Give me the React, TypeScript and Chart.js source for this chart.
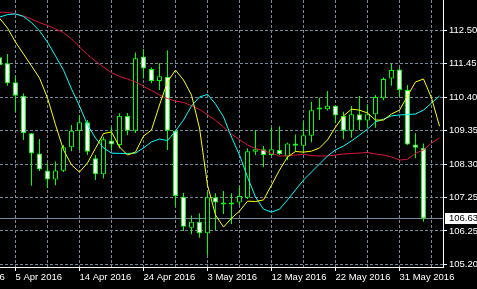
import React, { useEffect, useRef } from 'react';
import { Chart, registerables } from 'chart.js';

Chart.register(...registerables);

// Bar index of the first candle (bars are daily incl. Sunday bars)
const FIRST_BAR = -1;

const OPEN = [
  111.66, 111.47, 110.88, 110.46, 109.29, 108.66, 108.13, 107.85, 108.12, 108.85,
  109.37, 109.63, 108.51, 108.01, 109.06, 108.92, 109.83, 109.37, 111.68, 111.29,
  110.92, 111.05, 109.37, 107.31, 106.34, 106.53, 106.17, 107.29, 107.13, 107.13,
  107.13, 107.28, 108.71, 108.79, 108.61, 108.77, 108.56, 108.97, 108.90, 109.21,
  110.04, 110.04, 110.15, 109.83, 109.37, 109.88, 109.69, 109.88, 110.38, 111.00,
  111.28, 110.64, 108.94, 108.84,
];
const HIGH = [
  111.73, 111.76, 111.08, 110.53, 109.30, 109.11, 108.35, 108.41, 108.92, 109.55,
  109.86, 109.70, 108.61, 109.18, 109.49, 109.91, 109.92, 111.81, 111.92, 111.34,
  111.47, 111.88, 109.40, 107.43, 106.72, 106.79, 107.46, 107.42, 107.49, 107.42,
  107.62, 108.82, 109.39, 108.89, 109.47, 109.51, 108.99, 109.25, 109.67, 110.27,
  110.40, 110.61, 110.17, 109.96, 110.14, 110.45, 110.19, 110.48, 111.03, 111.45,
  111.34, 110.79, 109.29, 108.97,
];
const LOW = [
  111.35, 110.77, 109.96, 109.08, 107.65, 108.11, 107.57, 107.67, 108.08, 108.73,
  108.77, 108.61, 107.83, 107.88, 108.77, 108.82, 109.23, 109.30, 111.00, 110.85,
  110.64, 108.77, 107.00, 106.24, 106.14, 106.03, 105.49, 106.27, 106.77, 106.46,
  107.05, 107.24, 108.61, 108.23, 108.58, 108.61, 108.45, 108.71, 108.66, 109.01,
  109.70, 110.00, 109.60, 109.10, 109.15, 109.39, 109.46, 109.46, 110.32, 110.77,
  110.43, 108.92, 108.51, 106.53,
];
const CLOSE = [
  111.42, 110.85, 110.46, 109.29, 108.66, 108.16, 107.85, 108.13, 108.85, 109.37,
  109.63, 108.71, 108.01, 109.10, 108.94, 109.83, 109.37, 111.63, 111.31, 110.92,
  111.07, 109.37, 107.33, 106.37, 106.53, 106.17, 107.29, 107.13, 107.07, 107.07,
  107.33, 108.73, 108.79, 108.61, 108.79, 108.63, 108.97, 108.90, 109.23, 110.01,
  110.03, 110.15, 109.84, 109.37, 109.88, 109.69, 109.88, 110.42, 110.98, 111.26,
  110.64, 108.94, 108.84, 106.63,
];

// Moving averages (shifted forward, so they run two bars past the last candle)
const MA_YELLOW = [
  112.88, 112.57, 112.13, 111.76, 111.39, 111.01, 110.39, 109.55, 108.77, 108.30,
  108.08, 108.36, 108.82, 109.28, 109.33, 108.86, 108.61, 108.70, 109.20, 109.39,
  110.17, 110.89, 111.26, 110.95, 110.48, 109.45, 107.67, 106.74, 106.36, 106.64,
  106.86, 107.17, 107.16, 107.21, 107.67, 108.14, 108.55, 108.72, 108.70, 108.73,
  108.83, 109.08, 109.48, 109.83, 110.04, 110.01, 109.92, 109.70, 109.70, 109.89,
  110.01, 110.45, 110.89, 110.98, 110.39, 109.51,
];
const MA_CYAN = [
  112.91, 112.99, 113.01, 112.93, 112.74, 112.48, 112.13, 111.70, 111.26, 110.67,
  110.14, 109.55, 109.14, 108.83, 108.67, 108.66, 108.66, 108.67, 108.83, 109.02,
  109.11, 109.06, 109.36, 109.70, 110.14, 110.42, 110.50, 110.20, 109.80, 109.17,
  108.61, 107.92, 107.30, 106.92, 106.83, 106.92, 107.21, 107.52, 107.83, 108.08,
  108.33, 108.58, 108.77, 108.89, 109.05, 109.23, 109.42, 109.64, 109.73, 109.83,
  109.86, 109.87, 109.89, 110.01, 110.23, 110.45,
];
const MA_RED = [
  113.06, 113.06, 113.01, 112.95, 112.85, 112.74, 112.65, 112.54, 112.43, 112.23,
  111.98, 111.74, 111.54, 111.35, 111.18, 111.06, 110.98, 110.89, 110.75, 110.62,
  110.48, 110.37, 110.29, 110.25, 110.15, 110.03, 109.87, 109.69, 109.48, 109.26,
  109.09, 108.92, 108.81, 108.75, 108.66, 108.58, 108.58, 108.61, 108.63, 108.59,
  108.58, 108.58, 108.61, 108.64, 108.66, 108.67, 108.69, 108.64, 108.61, 108.55,
  108.45, 108.48, 108.66, 108.77, 108.98, 109.14,
];

const X_TICK_BARS = [-7, 1, 9, 17, 25, 33, 41, 49];
const X_TICK_LABELS = [
  '27 Mar 2016', '5 Apr 2016', '14 Apr 2016', '24 Apr 2016',
  '3 May 2016', '12 May 2016', '22 May 2016', '31 May 2016',
];
const Y_TICK_VALUES = [105.2, 106.2429, 107.2857, 108.3286, 109.3714, 110.4143, 111.4571, 112.5];
const Y_TICK_LABELS = ['105.20', '106.25', '107.25', '108.30', '109.35', '110.40', '111.45', '112.50'];

const W = 477;
const H = 289;
const X_MIN = -0.9375;
const X_MAX = 54.4375;
const Y_MIN = 105.117;
const Y_MAX = 113.445;
const GRID = '#778899';
const FONT = { family: 'Liberation Sans', size: 9.5 };

export default function App() {
  const ref = useRef<HTMLCanvasElement>(null);

  useEffect(() => {
    const canvas = ref.current;
    if (!canvas) return;
    const barX = (k: number) => FIRST_BAR + k;
    const wicks = OPEN.map((_, k) => ({ x: barX(k), y: [LOW[k], HIGH[k]] }));
    const bodies = OPEN.map((o, k) => ({ x: barX(k), y: [o, CLOSE[k]] }));
    const bodyFill = OPEN.map((o, k) => (CLOSE[k] < o ? '#ffffff' : '#000000'));
    const line = (arr: number[]) => arr.map((v, k) => ({ x: barX(k), y: v }));
    const lastClose = CLOSE[CLOSE.length - 1];

    const gridBars: number[] = [];
    for (let b = X_TICK_BARS[0]; b <= X_MAX; b += 4) gridBars.push(b);

    const priceLine = {
      id: 'priceLine',
      beforeDatasetsDraw(chart: any) {
        const { ctx, chartArea, scales } = chart;
        const y = Math.round(scales.y.getPixelForValue(lastClose)) + 0.5;
        ctx.save();
        ctx.strokeStyle = GRID;
        ctx.lineWidth = 1;
        ctx.beginPath();
        ctx.moveTo(chartArea.left, y);
        ctx.lineTo(chartArea.right, y);
        ctx.stroke();
        ctx.restore();
      },
      afterDraw(chart: any) {
        const { ctx, chartArea, scales } = chart;
        const yc = Math.round(scales.y.getPixelForValue(lastClose));
        ctx.save();
        ctx.fillStyle = '#ffffff';
        ctx.fillRect(chartArea.right + 2, yc - 5, chart.width - chartArea.right - 2, 11);
        ctx.fillStyle = '#000000';
        ctx.font = `${FONT.size}px "${FONT.family}"`;
        ctx.textBaseline = 'middle';
        ctx.textAlign = 'left';
        ctx.fillText(lastClose.toFixed(2), chartArea.right + 6, yc + 0.5);
        ctx.restore();
      },
    };

    const chart = new Chart(canvas, {
      type: 'bar',
      data: {
        datasets: [
          { type: 'line', data: line(MA_YELLOW), borderColor: '#ffff00', borderWidth: 1, pointRadius: 0, order: 0 },
          { type: 'line', data: line(MA_CYAN), borderColor: '#00ffff', borderWidth: 1, pointRadius: 0, order: 0 },
          { type: 'line', data: line(MA_RED), borderColor: '#dc143c', borderWidth: 1, pointRadius: 0, order: 0 },
          {
            type: 'bar', data: bodies as any, backgroundColor: bodyFill, borderColor: '#00ff00', borderWidth: 1,
            borderSkipped: false, barThickness: 5, grouped: false, minBarLength: 2, inflateAmount: 0, order: 1,
          } as any,
          {
            type: 'bar', data: wicks as any, backgroundColor: '#00ff00', borderWidth: 0,
            barThickness: 1, grouped: false, inflateAmount: 0, order: 2,
          } as any,
        ],
      },
      plugins: [priceLine],
      options: {
        animation: false,
        responsive: false,
        maintainAspectRatio: false,
        devicePixelRatio: 1,
        events: [],
        layout: { padding: 0 },
        plugins: { legend: { display: false }, tooltip: { enabled: false } },
        scales: {
          x: {
            type: 'linear',
            position: 'bottom',
            min: X_MIN,
            max: X_MAX,
            bounds: 'data',
            offset: false,
            afterBuildTicks: (s: any) => { s.ticks = gridBars.map((v) => ({ value: v })); },
            afterFit: (s: any) => { s.height = 22; s.paddingLeft = 0; s.paddingRight = 0; },
            grid: {
              color: GRID, lineWidth: 1, offset: false, drawTicks: true, tickLength: 4, tickWidth: 1,
              tickColor: (c: any) => (X_TICK_BARS.includes(c.tick?.value) ? '#ffffff' : 'rgba(0,0,0,0)'),
            },
            border: { display: true, color: '#ffffff', width: 1, dash: [3, 2] },
            ticks: {
              autoSkip: false, maxRotation: 0, minRotation: 0, align: 'start', padding: 1,
              color: '#ffffff', font: FONT,
              callback: (v: any) => {
                const i = X_TICK_BARS.indexOf(Number(v));
                return i >= 0 ? X_TICK_LABELS[i] : '';
              },
            },
          },
          y: {
            type: 'linear',
            position: 'right',
            min: Y_MIN,
            max: Y_MAX,
            bounds: 'data',
            afterBuildTicks: (s: any) => { s.ticks = Y_TICK_VALUES.map((v) => ({ value: v })); },
            afterFit: (s: any) => { s.width = W - 443; s.paddingTop = 0; s.paddingBottom = 0; },
            grid: { color: GRID, lineWidth: 1, tickLength: 4, tickWidth: 1, tickColor: '#ffffff' },
            border: { display: true, color: '#ffffff', width: 1, dash: [3, 2] },
            ticks: {
              autoSkip: false, padding: 2, color: '#ffffff', font: FONT,
              callback: (_v: any, i: number) => Y_TICK_LABELS[i],
            },
          },
        },
      } as any,
    });
    return () => chart.destroy();
  }, []);

  return (
    <div style={{ position: 'fixed', left: 0, top: 0, width: W, height: H, background: '#000000' }}>
      <canvas ref={ref} width={W} height={H} style={{ display: 'block', width: W, height: H }} />
    </div>
  );
}
